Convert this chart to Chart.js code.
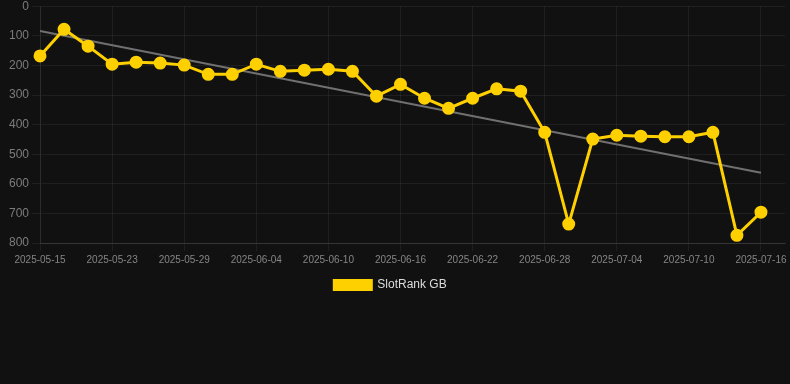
<!DOCTYPE html>
<html>
<head>
<meta charset="utf-8">
<script src="https://cdn.jsdelivr.net/npm/chart.js@4/dist/chart.umd.min.js"></script>
<style>
	html, body { margin: 0; padding: 0; background: #111111; overflow: hidden; }
	#wrap { position: relative; width: 793px; height: 305px; margin-top: -4px; }
</style>
</head>
<body>
<div id="wrap"><canvas id="chart"></canvas></div>
<script>
// chart data
const dates = [
	'2025-05-15', '2025-05-17', '2025-05-21', '2025-05-23', '2025-05-25', '2025-05-27',
	'2025-05-29', '2025-05-31', '2025-06-02', '2025-06-04', '2025-06-06', '2025-06-08',
	'2025-06-10', '2025-06-12', '2025-06-14', '2025-06-16', '2025-06-18', '2025-06-20',
	'2025-06-22', '2025-06-24', '2025-06-26', '2025-06-28', '2025-06-30', '2025-07-02',
	'2025-07-04', '2025-07-06', '2025-07-08', '2025-07-10', '2025-07-12', '2025-07-14',
	'2025-07-16', '2025-07-17'
];
const rankGB = [
	168, 78, 135, 196, 189, 192, 199, 230, 230, 196, 220, 216,
	213, 220, 304, 264, 311, 345, 311, 279, 287, 426, 736, 449,
	436, 439, 441, 441, 426, 774, 696, null
];
// trend line: only its two ends are drawn, joined across the gap
const trendGB = [84].concat(new Array(29).fill(null), [563, null]);
const yTicks = { min: 0, max: 800, step: 100 };

// nudge the legend a little left of centre, like the original
const legendNudge = {
	id: 'legendNudge',
	afterUpdate(chart) {
		const lg = chart.legend;
		if (lg && lg.lineWidths && lg.lineWidths.length) lg.lineWidths[0] += 18;
	}
};

const ctx = document.getElementById('chart').getContext('2d');
new Chart(ctx, {
	type: 'line',
	plugins: [legendNudge],
	data: {
		labels: dates,
		datasets: [
			{
				label: 'SlotRank GB',
				data: rankGB,
				borderColor: '#FFD000',
				backgroundColor: '#FFD000',
				borderWidth: 3,
				pointRadius: 5,
				pointHoverRadius: 5,
				pointBackgroundColor: '#FFD000',
				pointBorderColor: '#FFD000',
				tension: 0
			},
			{
				label: 'trend',
				data: trendGB,
				borderColor: '#707070',
				borderWidth: 2,
				pointRadius: 0,
				spanGaps: true,
				fill: false
			}
		]
	},
	options: {
		responsive: true,
		maintainAspectRatio: false,
		animation: false,
		layout: { padding: { left: 6, right: 0, top: 0, bottom: 0 } },
		plugins: {
			legend: {
				position: 'bottom',
				labels: {
					color: '#dddddd',
					boxWidth: 37,
					boxHeight: 9,
					font: { family: 'Liberation Sans, Arial, sans-serif', size: 12 },
					filter: item => item.text !== 'trend'
				}
			},
			tooltip: { enabled: false }
		},
		scales: {
			x: {
				offset: false,
				grid: { color: 'rgba(255,255,255,0.06)', drawTicks: true, tickLength: 8 },
				border: { color: 'rgba(255,255,255,0.1)' },
				ticks: {
					color: '#858585',
					autoSkip: false,
					maxRotation: 0,
					padding: 3,
					font: { family: 'Liberation Sans, Arial, sans-serif', size: 10 },
					callback: function (val, i) {
						return i % 3 === 0 && i < 31 ? dates[i] : null;
					}
				}
			},
			y: {
				reverse: true,
				min: yTicks.min,
				max: yTicks.max,
				grid: { color: 'rgba(255,255,255,0.06)', tickLength: 8 },
				border: { color: 'rgba(255,255,255,0.06)' },
				ticks: {
					stepSize: yTicks.step,
					color: '#7c7c7c',
					padding: 3,
					font: { family: 'Liberation Sans, Arial, sans-serif', size: 12 }
				}
			}
		}
	}
});
</script>
</body>
</html>
